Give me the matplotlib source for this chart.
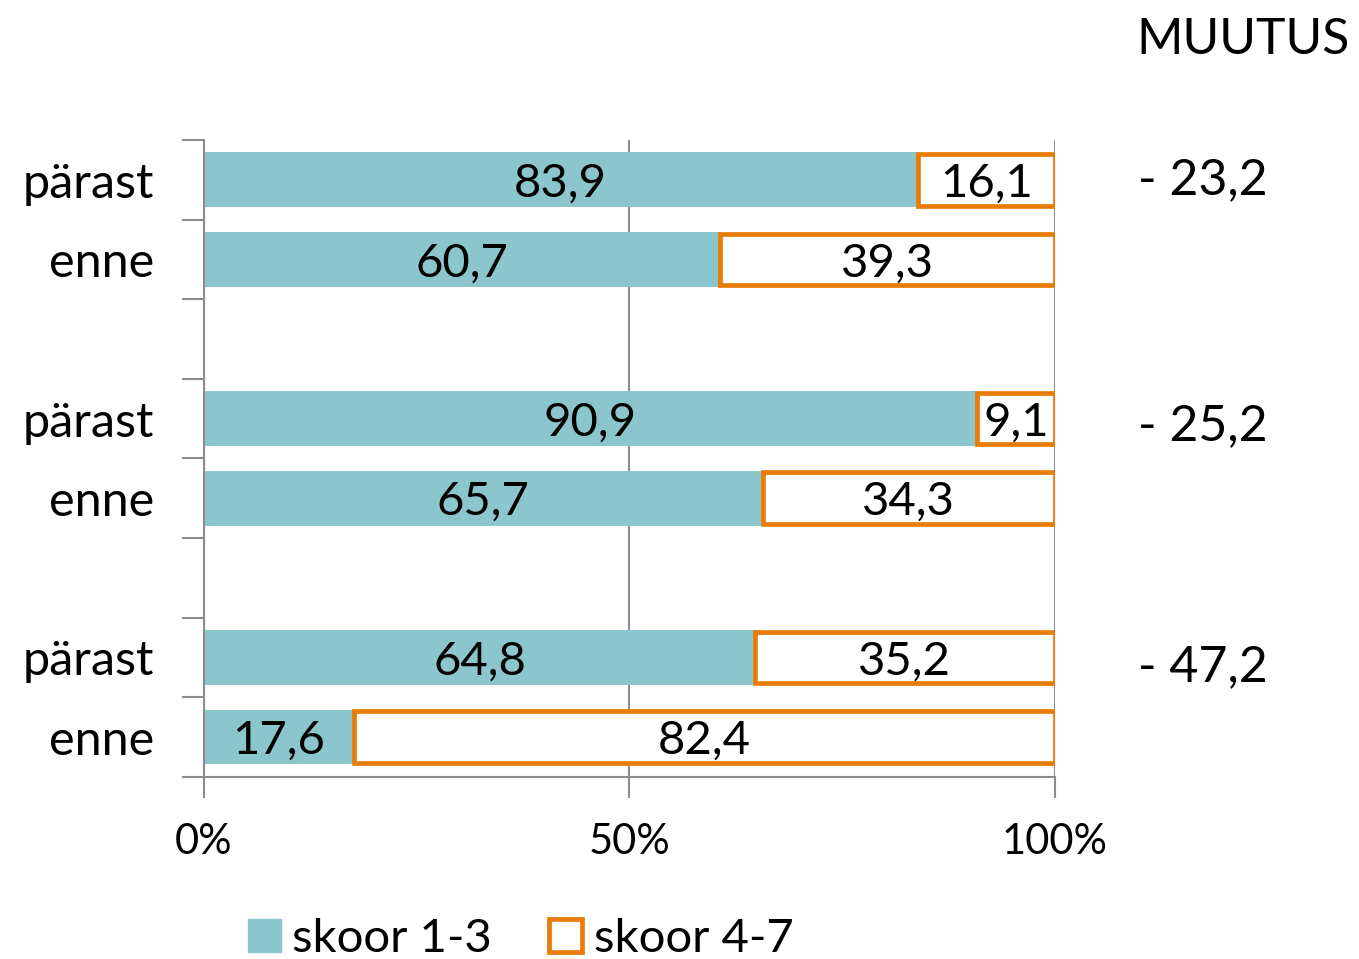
import matplotlib.pyplot as plt
from matplotlib.patches import Patch

plt.rcParams['font.family'] = ['Lato', 'DejaVu Sans']

# rows from top to bottom, '' = empty spacer row
rows = ['pärast', 'enne', '', 'pärast', 'enne', '', 'pärast', 'enne']
skoor_13 = [83.9, 60.7, None, 90.9, 65.7, None, 64.8, 17.6]
skoor_47 = [16.1, 39.3, None, 9.1, 34.3, None, 35.2, 82.4]
muutus = ['- 23,2', '- 25,2', '- 47,2']
muutus_rows = [0, 3, 6]
muutus_shift = [0.0, 0.09, 0.12]

teal = '#8BC6CD'
orange = '#E97B06'
grey = '#8c8c8c'

fig = plt.figure(figsize=(13.59, 9.59), dpi=100)
ax = fig.add_axes([0.150, 0.190, 0.626, 0.664])

for i, (a, b) in enumerate(zip(skoor_13, skoor_47)):
    if a is None:
        continue
    ax.barh(i, a, height=0.69, color=teal, edgecolor='none', zorder=2)
    ax.barh(i, b, left=a, height=0.65, color='white', edgecolor=orange,
            linewidth=3.4, zorder=3)
    ax.text(a / 2, i + 0.05, f'{a:.1f}'.replace('.', ','), ha='center', va='center',
            fontsize=34, zorder=4)
    ax.text(a + b / 2, i + 0.05, f'{b:.1f}'.replace('.', ','), ha='center', va='center',
            fontsize=34, zorder=4)

ax.set_xlim(0, 100)
ax.set_ylim(7.5, -0.5)
ax.set_xticks([0, 50, 100])
ax.set_xticklabels(['0%', '50%', '100%'], fontsize=30)
ax.xaxis.grid(True, color=grey, linewidth=1.5, zorder=0)

ax.set_yticks([i - 0.5 for i in range(9)])
ax.set_yticklabels([])
ax.set_yticks(range(8), minor=True)
ax.set_yticklabels(rows, minor=True, fontsize=35)
ax.tick_params(axis='y', which='major', length=16, width=1.5, color=grey, direction='out')
ax.tick_params(axis='y', which='minor', length=0, pad=36)
ax.tick_params(axis='x', length=15, width=1.5, color=grey, pad=18)

for s in ['top', 'right']:
    ax.spines[s].set_visible(False)
for s in ['left', 'bottom']:
    ax.spines[s].set_color(grey)
    ax.spines[s].set_linewidth(1.5)

fig.text(0.836, 0.958, 'MUUTUS', fontsize=36, ha='left', va='center')
for lab, r, d in zip(muutus, muutus_rows, muutus_shift):
    ax.text(1.0976, r + d, lab, transform=ax.get_yaxis_transform(),
            fontsize=36, ha='left', va='center')

handles = [Patch(facecolor=teal, edgecolor=teal, label='skoor 1-3'),
           Patch(facecolor='white', edgecolor=orange, linewidth=3.4, label='skoor 4-7')]
fig.legend(handles=handles, loc='center', bbox_to_anchor=(0.383, 0.021), ncol=2,
           frameon=False, fontsize=34, handlelength=0.7, handleheight=0.7,
           handletextpad=0.25, columnspacing=1.2, borderpad=0)

fig.savefig('out.png', dpi=100)
